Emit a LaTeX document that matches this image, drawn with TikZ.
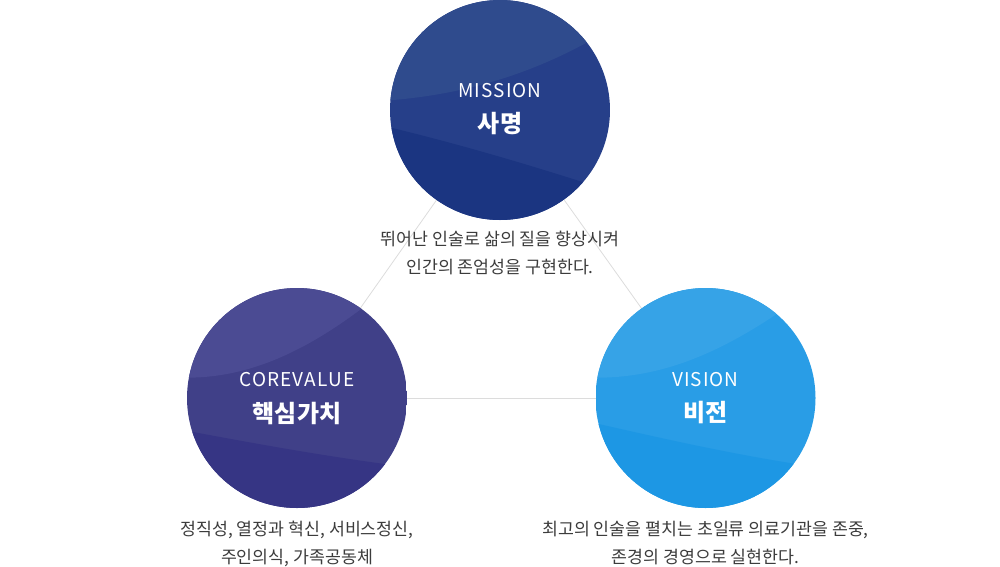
\documentclass[tikz,border=0pt]{standalone}
\usepackage{fontspec}
\setmainfont{Noto Sans CJK KR}
\newfontfamily\enfont[LetterSpace=5,Kerning=Off]{Noto Sans CJK KR}
\usetikzlibrary{backgrounds}
\definecolor{linegray}{HTML}{DCDCDC}
\definecolor{descgray}{HTML}{3C3C3C}
\definecolor{mTop}{HTML}{2F4B8D}
\definecolor{mMid}{HTML}{263F89}
\definecolor{mBot}{HTML}{1B3581}
\definecolor{cTop}{HTML}{4B4B93}
\definecolor{cMid}{HTML}{404088}
\definecolor{cBot}{HTML}{363584}
\definecolor{vTop}{HTML}{36A3E7}
\definecolor{vMid}{HTML}{299DE6}
\definecolor{vBot}{HTML}{1D97E4}
\tikzset{
  orb/.style={circle, minimum size=220pt, inner sep=0pt, draw=none},
  link/.style={draw=linegray, line width=0.8pt},
  entext/.style={text=white, font=\enfont\fontsize{19}{21}\selectfont, inner sep=0pt},
  kotext/.style={text=white, font=\fontsize{24}{28}\selectfont\bfseries, inner sep=0pt},
  desc/.style={text=descgray, align=center, font=\fontsize{17.3}{28}\selectfont, inner sep=0pt},
}
\begin{document}
\begin{tikzpicture}[x=1pt, y=-1pt]
\useasboundingbox (0,0) rectangle (1000,566);

% circles
\node[orb, path picture={
  \fill[mMid] (path picture bounding box.south west) rectangle (path picture bounding box.north east);
  \begin{scope}[shift={(path picture bounding box.center)}]
    \fill[mTop] (-120,-9) .. controls (-40,-14) and (30,-35) .. (95,-72) -- (95,-200) -- (-200,-200) -- (-200,-9) -- cycle;
    \fill[mBot] (-120,15) .. controls (-45,33) and (20,52) .. (95,76) -- (95,200) -- (-200,200) -- (-200,15) -- cycle;
  \end{scope}}] (mission) at (500,110) {};

\node[orb, path picture={
  \fill[cMid] (path picture bounding box.south west) rectangle (path picture bounding box.north east);
  \begin{scope}[shift={(path picture bounding box.center)}]
    \fill[cTop] (-120,-20.5) .. controls (-58,-18) and (1,-40) .. (72,-95) -- (72,-200) -- (-200,-200) -- (-200,-20.5) -- cycle;
    \fill[cBot] (-120,31) .. controls (-45,45) and (20,57) .. (95,67) -- (95,200) -- (-200,200) -- (-200,31) -- cycle;
  \end{scope}}] (core) at (297,398) {};

\node[orb, path picture={
  \fill[vMid] (path picture bounding box.south west) rectangle (path picture bounding box.north east);
  \begin{scope}[shift={(path picture bounding box.center)}]
    \fill[vTop] (-120,-20.5) .. controls (-55,-18) and (5,-38) .. (80,-90) -- (80,-200) -- (-200,-200) -- (-200,-20.5) -- cycle;
    \fill[vBot] (-120,23) .. controls (-45,40) and (20,55) .. (97,67) -- (97,200) -- (-200,200) -- (-200,23) -- cycle;
  \end{scope}}] (vision) at (705.5,398) {};

% connectors behind
\begin{scope}[on background layer]
  \draw[link] (mission.center) -- (core.center);
  \draw[link] (mission.center) -- (vision.center);
  \draw[link] (core.center) -- (vision.center);
\end{scope}

% circle texts
\node[entext] (missionEn) at (500,91) {MISSION};
\node[kotext] (missionKo) at (500,124) {사명};
\node[entext] (coreEn) at (297,380) {COREVALUE};
\node[kotext] (coreKo) at (297,413) {핵심가치};
\node[entext] (visionEn) at (705.5,380) {VISION};
\node[kotext] (visionKo) at (705.5,413) {비전};

% descriptions
\node[desc] (missionDesc) at (500,253) {뛰어난 인술로 삶의 질을 향상시켜\\인간의 존엄성을 구현한다.};
\node[desc] (coreDesc) at (297,543.5) {정직성, 열정과 혁신, 서비스정신,\\주인의식, 가족공동체};
\node[desc] (visionDesc) at (705.5,543.5) {최고의 인술을 펼치는 초일류 의료기관을 존중,\\존경의 경영으로 실현한다.};
\end{tikzpicture}
\end{document}
